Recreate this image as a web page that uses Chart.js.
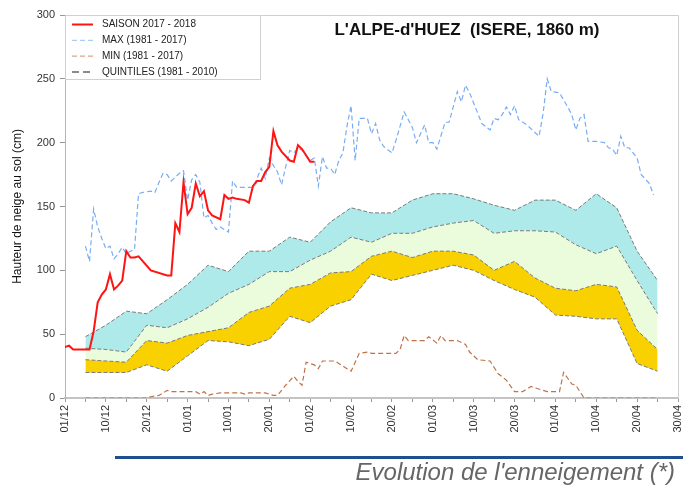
<!DOCTYPE html>
<html>
<head>
<meta charset="utf-8">
<script src="https://cdn.jsdelivr.net/npm/chart.js@4/dist/chart.umd.min.js"></script>
<style>
  body { margin: 0; background: #fff; }
  #wrap { position: relative; width: 683px; height: 486px; }
  #bar { position: absolute; left: 115px; top: 456px; width: 568px; height: 3px; background: #1f4e91; }
  #sub { position: absolute; right: 8px; top: 458px; font: italic 24px "Liberation Sans", Arial, sans-serif; color: #666; }
</style>
</head>
<body>
<div id="wrap">
  <canvas id="c" width="683" height="486"></canvas>
  <div id="bar"></div>
  <div id="sub">Evolution de l'enneigement (*)</div>
</div>
<script>
// x = days since 01/12
const xTickLabels = ['01/12', '10/12', '20/12', '01/01', '10/01', '20/01', '01/02', '10/02',
  '20/02', '01/03', '10/03', '20/03', '01/04', '10/04', '20/04', '30/04'];

// saison 2017 - 2018
const seasonDays = [0, 1, 2, 3, 4, 5, 6, 7, 8, 9, 10, 11, 12, 13, 14, 15, 16, 17, 18, 21, 25, 26, 27, 28, 29, 30,
  31, 32, 33, 34, 35, 36, 38, 39, 40, 41, 42, 44, 45, 46, 47, 48, 49, 50, 51, 52, 53, 55, 56, 57, 58, 60, 61];
const seasonValues = [40, 41, 38, 38, 38, 38, 38, 52, 75, 81, 85, 97, 85, 88, 92, 115, 110, 110, 111, 100, 96, 96, 137, 130, 169, 144,
  149, 168, 158, 162, 147, 143, 140, 159, 156, 157, 156, 155, 153, 166, 170, 170, 177, 181, 209, 198, 193, 186, 185, 198, 195, 185, 185];

// max 1981 - 2017
const maxDays = [5, 6, 7, 8, 9, 10, 11, 12, 13, 14, 15, 16, 17, 18, 19, 21, 22, 23, 24, 25, 26, 28, 29, 30, 31, 32, 33, 34,
  35, 36, 37, 38, 40, 41, 42, 46, 47, 48, 49, 50, 51, 52, 53, 54, 55, 56, 57, 58, 60, 61, 62, 63, 64, 65, 66, 67, 68, 69,
  70, 71, 72, 74, 75, 76, 77, 78, 80, 81, 83, 85, 86, 88, 89, 90, 91, 93, 94, 95, 96, 97, 98, 99, 101, 102, 104, 105,
  106, 107, 108, 109, 110, 111, 113, 115, 116, 117, 118, 119, 121, 123, 124, 125, 126, 127, 128, 130, 132, 133, 134,
  135, 136, 137, 138, 140, 141, 143, 144];
const maxValues = [119, 107, 148, 134, 125, 117, 119, 109, 113, 118, 113, 115, 116, 160, 161, 162, 161, 169, 176, 175, 170, 176, 178, 155, 171, 175, 169, 141,
  143, 137, 132, 134, 130, 170, 165, 165, 172, 180, 172, 188, 182, 177, 167, 181, 194, 192, 196, 194, 186, 188, 166, 189, 180, 180, 175, 186, 192, 213,
  229, 186, 219, 219, 207, 215, 202, 197, 192, 202, 224, 212, 200, 214, 200, 200, 195, 216, 216, 228, 240, 232, 245, 239, 223, 215, 210, 219,
  218, 222, 228, 222, 229, 218, 214, 208, 205, 223, 250, 240, 239, 228, 222, 210, 219, 222, 201, 201, 200, 196, 195,
  190, 205, 196, 196, 188, 175, 168, 159];

// min 1981 - 2017
const minDays = [5, 20, 21, 23, 25, 26, 32, 33, 34, 35, 36, 38, 43, 44, 45, 49, 51, 52, 53, 54, 56, 57, 58, 59, 61, 62, 63,
  66, 67, 69, 70, 72, 74, 75, 81, 82, 83, 84, 88, 89, 91, 92, 93, 96, 98, 99, 101, 104, 106, 108, 110, 112, 114, 115,
  118, 121, 122, 124, 125, 127, 145];
const minValues = [0, 0, 1, 2, 6, 5, 5, 3, 5, 2, 3, 4, 4, 3, 4, 4, 2, 2, 6, 10, 17, 13, 10, 28, 26, 23, 29,
  29, 27, 23, 21, 35, 36, 35, 35, 38, 49, 45, 45, 48, 43, 49, 45, 45, 42, 36, 30, 29, 19, 14, 5, 5, 9, 8,
  5, 5, 20, 11, 10, 0, 0];

// quintiles 1981 - 2010
const quintileDays = [5, 10, 15, 20, 25, 30, 35, 40, 45, 50, 55, 60, 65, 70, 75, 80, 85, 90, 95, 100, 105, 110, 115, 120, 125, 130, 135, 140, 145];
const q20 = [20, 20, 20, 26, 21, 33, 45, 44, 41, 46, 64, 59, 72, 77, 97, 92, 96, 100, 104, 100, 92, 85, 79, 65, 64, 62, 62, 27, 21];
const q40 = [30, 29, 28, 45, 43, 49, 52, 55, 67, 72, 86, 89, 98, 99, 111, 115, 110, 115, 115, 112, 100, 107, 94, 86, 84, 89, 87, 53, 38];
const q60 = [39, 38, 36, 57, 55, 62, 71, 82, 89, 99, 99, 108, 115, 126, 122, 129, 129, 134, 137, 139, 129, 131, 131, 130, 120, 113, 119, 92, 66];
const q80 = [48, 57, 68, 66, 77, 89, 104, 99, 115, 115, 126, 122, 138, 149, 145, 145, 155, 160, 160, 156, 151, 147, 155, 155, 147, 160, 149, 115, 92];

const toPoints = (days, vals) => days.map((d, i) => ({ x: d, y: vals[i] }));

const FONT = '"Liberation Sans", Arial, sans-serif';

const quintileLine = {
  borderColor: '#7a7a7a',
  borderWidth: 1,
  borderDash: [4, 2],
  pointRadius: 0,
  tension: 0
};

// legend box + station title drawn in the plot
const overlayPlugin = {
  id: 'overlay',
  afterDraw(chart) {
    const ctx = chart.ctx;
    const a = chart.chartArea;
    ctx.save();
    // frame
    ctx.strokeStyle = '#cfcfcf';
    ctx.lineWidth = 1;
    ctx.beginPath();
    ctx.moveTo(a.left, a.top + 0.5);
    ctx.lineTo(a.right + 0.5, a.top + 0.5);
    ctx.lineTo(a.right + 0.5, a.bottom);
    ctx.stroke();

    // title
    ctx.fillStyle = '#111';
    ctx.font = 'bold 17px ' + FONT;
    ctx.textAlign = 'center';
    ctx.textBaseline = 'middle';
    ctx.fillText("L'ALPE-d'HUEZ  (ISERE, 1860 m)", 467, 30);

    // legend
    const items = [
      { text: 'SAISON 2017 - 2018', ds: 0 },
      { text: 'MAX (1981 - 2017)', ds: 1 },
      { text: 'MIN (1981 - 2017)', ds: 2 },
      { text: 'QUINTILES (1981 - 2010)', ds: 3 }
    ];
    ctx.fillStyle = '#fff';
    ctx.fillRect(a.left + 1, a.top + 1, 194, 63);
    ctx.strokeStyle = '#d0d0d0';
    ctx.strokeRect(a.left + 0.5, a.top + 0.5, 195, 64);
    ctx.font = '10px ' + FONT;
    ctx.textAlign = 'left';
    items.forEach((it, i) => {
      const y = a.top + 9.5 + i * 15.8;
      const ds = chart.data.datasets[it.ds];
      ctx.strokeStyle = ds.legendColor || ds.borderColor;
      ctx.lineWidth = ds.legendWidth || ds.borderWidth;
      ctx.setLineDash(ds.legendDash || ds.borderDash || []);
      ctx.beginPath();
      ctx.moveTo(a.left + 7, y);
      ctx.lineTo(a.left + 28, y);
      ctx.stroke();
      ctx.setLineDash([]);
      ctx.fillStyle = '#222';
      ctx.fillText(it.text, a.left + 37, y);
    });
    ctx.restore();
  }
};

new Chart(document.getElementById('c'), {
  type: 'line',
  data: {
    datasets: [
      {
        label: 'SAISON 2017 - 2018',
        data: toPoints(seasonDays, seasonValues),
        borderColor: '#ff1414',
        borderWidth: 2,
        pointRadius: 0,
        fill: false
      },
      {
        label: 'MAX (1981 - 2017)',
        data: toPoints(maxDays, maxValues),
        borderColor: '#78adf2',
        legendColor: '#a9cbf5',
        borderWidth: 1.2,
        borderDash: [5, 3],
        pointRadius: 0,
        fill: false
      },
      {
        label: 'MIN (1981 - 2017)',
        data: toPoints(minDays, minValues),
        borderColor: '#c0724a',
        legendColor: '#d9a58a',
        borderWidth: 1.2,
        borderDash: [5, 3],
        pointRadius: 0,
        fill: false
      },
      Object.assign({ label: 'QUINTILES (1981 - 2010)', data: toPoints(quintileDays, q20), fill: false,
        legendColor: '#666', legendWidth: 1.5, legendDash: [7, 4] }, quintileLine),
      Object.assign({ label: 'q40', data: toPoints(quintileDays, q40), fill: '-1', backgroundColor: '#f9d100' }, quintileLine),
      Object.assign({ label: 'q60', data: toPoints(quintileDays, q60), fill: '-1', backgroundColor: '#ebfcdc' }, quintileLine),
      Object.assign({ label: 'q80', data: toPoints(quintileDays, q80), fill: '-1', backgroundColor: '#aeeaea' }, quintileLine)
    ]
  },
  options: {
    responsive: false,
    animation: false,
    layout: { padding: { left: 10, right: 5, top: 15, bottom: 0 } },
    plugins: {
      legend: { display: false },
      tooltip: { enabled: false }
    },
    scales: {
      x: {
        type: 'linear',
        min: 0,
        max: 150,
        afterFit: (s) => { s.height = 88; s.paddingLeft = 0; s.paddingRight = 0; },
        afterBuildTicks: (s) => {
          const t = [];
          for (let v = 0; v <= 150; v += 5) t.push({ value: v });
          s.ticks = t;
        },
        ticks: {
          autoSkip: false,
          minRotation: 90,
          maxRotation: 90,
          padding: 3,
          color: '#333',
          font: { family: FONT, size: 11 },
          callback: (v) => (v % 10 === 0 ? xTickLabels[v / 10] : '')
        },
        grid: { drawOnChartArea: false, drawTicks: true, tickLength: 4, color: '#999' },
        border: { color: '#c4c4c4', width: 2 }
      },
      y: {
        min: 0,
        max: 300,
        afterFit: (s) => { s.width = 55; s.paddingTop = 0; s.paddingBottom = 0; },
        ticks: {
          stepSize: 50,
          padding: 5,
          color: '#333',
          font: { family: FONT, size: 11 }
        },
        title: {
          display: true,
          text: 'Hauteur de neige au sol (cm)',
          color: '#111',
          font: { family: FONT, size: 12 },
          padding: { top: 0, bottom: 4 }
        },
        grid: { drawOnChartArea: false, drawTicks: true, tickLength: 5, color: '#999' },
        border: { color: '#b4b4b4', width: 1 }
      }
    }
  },
  plugins: [overlayPlugin]
});
</script>
</body>
</html>
